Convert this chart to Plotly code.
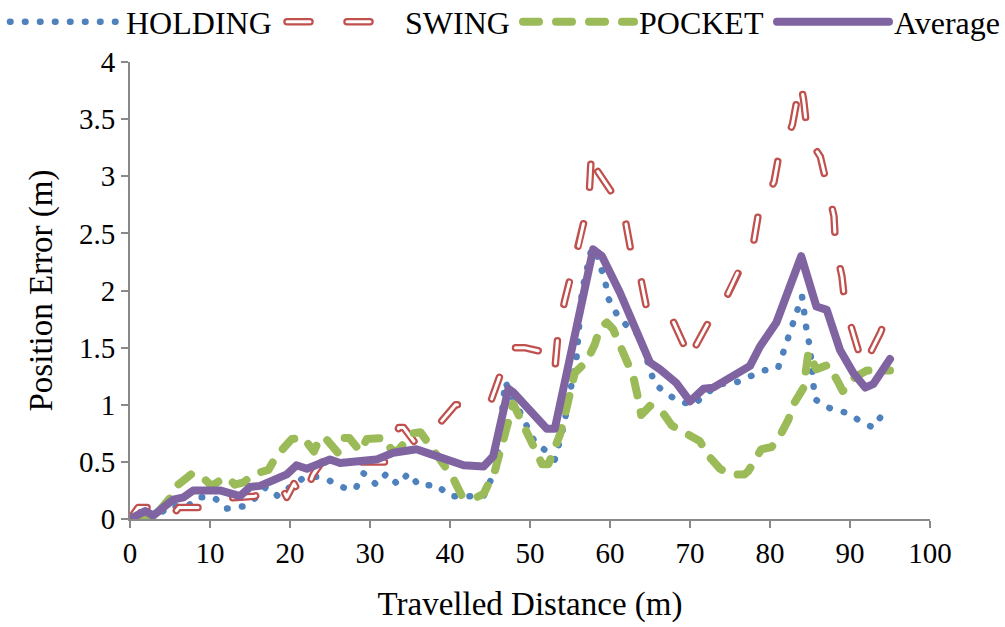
import plotly.graph_objects as go

# Travelled distance (m) / position error (m) for each carrying mode
holding_x = [0, 1.2, 3, 5, 7, 8.5, 10.5, 12, 14.1, 15.8, 17, 18.5, 20.2, 21.7, 23.3, 24.6, 25.6,
             27.5, 28.3, 29.2, 30.8, 32.1, 33.5, 34.8, 36.2, 38.3, 40, 44.2, 45.8, 46.9, 50.4,
             51.9, 53.1, 54.2, 55.8, 56.5, 57.6, 58.1, 59.4, 59.8, 60.8, 62.1, 63.7, 65, 65.6,
             66.9, 68.5, 70.4, 71.9, 73.5, 75.6, 77.3, 79.2, 81, 82.3, 84, 84.6, 85, 85.6, 87.1,
             88.3, 89.6, 91.2, 92.9, 94.1, 94.6]
holding_y = [0, 0.1, 0.0, 0.12, 0.1, 0.19, 0.19, 0.09, 0.11, 0.19, 0.28, 0.2, 0.29, 0.36, 0.37,
             0.35, 0.31, 0.25, 0.28, 0.4, 0.3, 0.4, 0.3, 0.4, 0.29, 0.3, 0.2, 0.2, 0.45, 1.2, 0.7,
             0.6, 0.52, 0.81, 1.4, 2.0, 2.34, 2.37, 2.08, 1.93, 1.8, 1.69, 1.6, 1.31, 1.18, 1.11,
             1.03, 1.0, 1.09, 1.18, 1.19, 1.24, 1.3, 1.32, 1.6, 1.95, 1.64, 1.5, 1.05, 0.98, 0.95,
             0.93, 0.86, 0.8, 0.92, 0.93]

swing_x = [0, 1, 2.8, 4.3, 5.3, 6.1, 9.2, 11.5, 15.6, 18.8, 19.6, 20.5, 21.6, 22.9, 24, 32,
           33.6, 34.2, 35.6, 37, 38.5, 40.7, 44.6, 45.2, 47.5, 49.3, 51.2, 52.1, 53.1, 53.5,
           54.3, 55.9, 56.7, 57.4, 57.7, 58.3, 60.3, 61.9, 62.6, 63.8, 64.6, 67.3, 67.7, 69.4,
           70, 70.6, 72.3, 74.4, 76.3, 78, 78.6, 80.5, 81.1, 82.8, 83.8, 84.2, 84.65, 85.1,
           86.3, 87.2, 88, 88.2, 89, 89.4, 90.5, 91.65, 93.8, 95]
swing_y = [0, 0.1, 0.1, 0.0, 0.03, 0.1, 0.1, 0.18, 0.2, 0.3, 0.19, 0.31, 0.17, 0.39, 0.5, 0.5,
           0.8, 0.8, 0.67, 0.78, 0.82, 1.0, 1.0, 1.05, 1.5, 1.5, 1.47, 1.3, 1.3, 1.62, 1.9, 2.34,
           2.59, 2.84, 3.23, 3.06, 2.85, 2.62, 2.35, 2.12, 1.84, 1.8, 1.76, 1.5, 1.38, 1.5, 1.72,
           1.92, 2.21, 2.44, 2.69, 2.95, 3.18, 3.45, 3.83, 3.67, 3.39, 3.3, 3.17, 2.91, 2.65,
           2.38, 2.12, 1.86, 1.6, 1.33, 1.63, 1.85]

pocket_x = [0, 2.8, 5.2, 6, 7.8, 9.3, 10.2, 11.1, 12.3, 13.1, 14.2, 15.4, 17.3, 18.3, 20.2,
            21.7, 23, 23.7, 24.4, 26, 26.8, 27.4, 28.8, 29.6, 31.9, 32.7, 33.5, 35.3, 36.3,
            37.7, 40.3, 41.5, 43.3, 44.2, 45.6, 47.9, 51.5, 52.3, 53.75, 54.4, 55.6, 57.1,
            58.1, 58.75, 59.6, 60.4, 61.25, 62.1, 62.9, 63.5, 63.9, 65, 66.3, 67.7, 69.2,
            70.2, 71.25, 72.1, 73.75, 75, 76.8, 77.3, 78.3, 78.9, 80.2, 81.25, 82.3, 82.9,
            84.2, 84.8, 85.8, 87.3, 88.5, 89.1, 90.6, 92.1, 95]
pocket_y = [0, 0, 0.2, 0.3, 0.4, 0.35, 0.29, 0.33, 0.36, 0.3, 0.32, 0.39, 0.43, 0.55, 0.7,
            0.71, 0.59, 0.71, 0.71, 0.58, 0.71, 0.71, 0.59, 0.7, 0.71, 0.6, 0.6, 0.75, 0.76,
            0.63, 0.37, 0.2, 0.19, 0.22, 0.42, 1.01, 0.48, 0.48, 0.74, 0.92, 1.28, 1.38, 1.53,
            1.67, 1.72, 1.66, 1.51, 1.35, 1.25, 1.06, 0.91, 0.99, 0.96, 0.82, 0.76, 0.71, 0.68,
            0.57, 0.44, 0.39, 0.39, 0.42, 0.54, 0.61, 0.63, 0.73, 0.87, 1.0, 1.15, 1.46, 1.31,
            1.35, 1.2, 1.12, 1.24, 1.3, 1.3]

average_x = [0, 1.9, 2.9, 5.4, 6.7, 7.9, 11.25, 13.75, 15, 16.25, 19.6, 20.8, 22.1, 23.3, 25,
             26.25, 30.8, 32.9, 35.8, 37.5, 40.4, 41.7, 44.2, 45.4, 47.3, 47.9, 52.1, 53.1,
             57.9, 59, 61.25, 63.3, 65, 66.25, 68.3, 70, 71.7, 72.9, 76.25, 77.5, 78.75, 80.8,
             83.9, 85.8, 87.1, 88.75, 90.4, 91.9, 92.9, 95]
average_y = [0, 0.07, 0.03, 0.17, 0.19, 0.25, 0.25, 0.2, 0.28, 0.29, 0.39, 0.47, 0.44, 0.47,
             0.52, 0.49, 0.52, 0.58, 0.61, 0.57, 0.51, 0.47, 0.46, 0.55, 1.14, 1.11, 0.79, 0.79,
             2.36, 2.3, 1.98, 1.66, 1.37, 1.31, 1.19, 1.03, 1.14, 1.15, 1.3, 1.34, 1.51, 1.72,
             2.3, 1.86, 1.83, 1.48, 1.28, 1.15, 1.18, 1.4]

x_ticks = list(range(0, 101, 10))
y_ticks = [0, 0.5, 1, 1.5, 2, 2.5, 3, 3.5, 4]

SERIF = "Liberation Serif, Times New Roman, serif"
AXIS_GREY = "#898989"
W, H = 1005, 627
SWING_DASH = "23px,37px"

fig = go.Figure()
fig.add_trace(go.Scatter(x=holding_x, y=holding_y, mode="lines", name="HOLDING",
                         legend="legend",
                         line=dict(color="#4F81BD", width=6.5, dash="0.5px,14.5px")))
fig.add_trace(go.Scatter(x=swing_x, y=swing_y, mode="lines", name="SWING",
                         legend="legend2",
                         line=dict(color="#C0504D", width=7.5, dash=SWING_DASH)))
# white core inside the red dashes gives the outlined look; its key sits in a
# transparent-text legend stacked exactly on the SWING key
fig.add_trace(go.Scatter(x=swing_x, y=swing_y, mode="lines", name="SWING",
                         legend="legend5", hoverinfo="skip",
                         line=dict(color="#FFFFFF", width=3, dash=SWING_DASH)))
fig.add_trace(go.Scatter(x=pocket_x, y=pocket_y, mode="lines", name="POCKET",
                         legend="legend3",
                         line=dict(color="#9BBB59", width=8, dash="16px,17px")))
fig.add_trace(go.Scatter(x=average_x, y=average_y, mode="lines", name="Average",
                         legend="legend4",
                         line=dict(color="#8064A2", width=8)))

axis_common = dict(showline=True, linecolor=AXIS_GREY, linewidth=2, ticks="outside",
                   ticklen=7, tickwidth=2, tickcolor=AXIS_GREY, showgrid=False,
                   zeroline=False, tickfont=dict(family=SERIF, size=29, color="black"))


def legend_box(left_px, item_w, text_color="black"):
    return dict(orientation="h", xref="container", yref="container",
                x=left_px / W, y=1 - 22 / H, xanchor="left", yanchor="middle",
                itemwidth=item_w,
                font=dict(family=SERIF, size=32, color=text_color),
                bgcolor="rgba(0,0,0,0)", borderwidth=0)


fig.update_layout(
    width=W, height=H,
    margin=dict(l=130, r=75, t=62, b=108, autoexpand=False),
    paper_bgcolor="white", plot_bgcolor="white",
    font=dict(family=SERIF, color="black"),
    xaxis=dict(range=[0, 100], tickvals=x_ticks, **axis_common,
               title=dict(text="Travelled Distance (m)", font=dict(size=33), standoff=24)),
    yaxis=dict(range=[0, 4], tickvals=y_ticks, **axis_common,
               title=dict(text="Position Error (m)", font=dict(size=33), standoff=16)),
    legend=legend_box(5, 111),
    legend2=legend_box(282, 113),
    legend3=legend_box(518, 111),
    legend4=legend_box(772, 112),
    legend5=legend_box(282, 113, text_color="rgba(0,0,0,0)"),
    showlegend=True,
)

# round caps and joins for every line (plot and legend keys)
post_js = """
var st = document.createElement('style');
st.textContent = '.js-line{stroke-linecap:round;stroke-linejoin:round;}';
document.head.appendChild(st);
"""

fig.write_html("out.html", post_script=post_js)
